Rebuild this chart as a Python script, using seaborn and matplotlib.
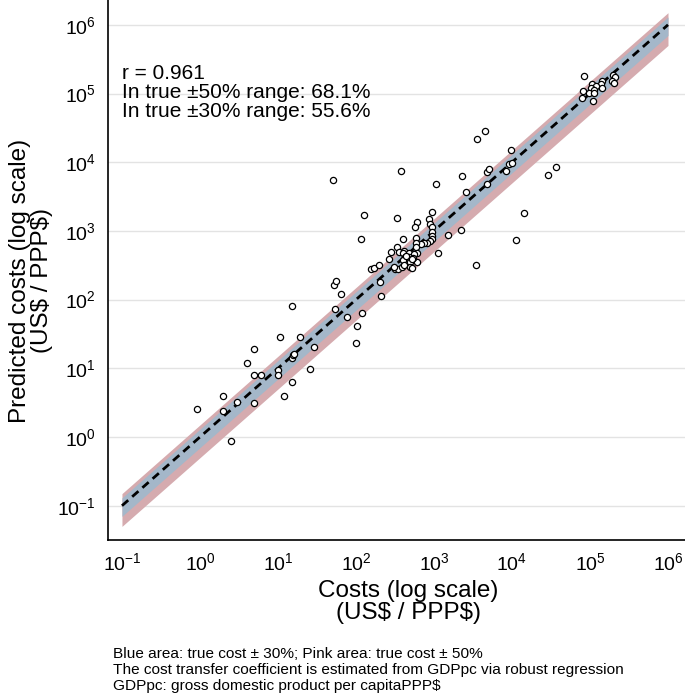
import numpy as np
import matplotlib
matplotlib.use("Agg")
import matplotlib.pyplot as plt
import seaborn as sns
from matplotlib.ticker import LogLocator, LogFormatterSciNotation, NullLocator

# observed costs (x) and predicted costs (y), US$ / PPP$
cost = [0.92, 2.0, 2.0, 2.98, 2.48, 3.97, 4.97, 4.97, 6.0, 4.97,
        10.6, 19.4, 10.0, 10.0, 11.9, 15.0, 15.0, 15.4, 16.0, 25.9,
        29.2, 15.0, 54.3, 64.9, 76.7, 100, 104, 120, 51.8, 54.9,
        211, 203, 50.7, 117, 128, 378, 338, 1050, 2300, 2550,
        3510, 4500, 4740, 5120, 4780, 8260, 9230, 10100, 9710, 29100,
        36600, 14300, 11200, 3430, 2200, 1520, 1140, 404,
        935, 855, 902, 951, 935, 951, 943, 889, 821, 745, 675,
        611, 579, 593, 588, 588, 600, 611,
        154, 170, 199, 267, 285, 340, 353, 412, 397, 482, 558,
        425, 482, 543, 404, 492, 316, 348, 385, 412, 492, 517, 307,
        438, 527,
        82600, 195000, 211000, 190000, 203000, 141000, 137000, 105000,
        119000, 102000, 113000, 141000, 80500, 98000, 112000, 78300, 110000]
predicted = [2.56, 4.0, 2.4, 3.18, 0.88, 12.1, 18.9, 7.98, 7.98, 3.16,
             28.1, 28.1, 9.44, 7.9, 4.0, 6.3, 14.3, 15.6, 16.4, 9.87,
             20.1, 80.7, 73, 119, 55.8, 23.6, 41.3, 64.4, 163, 187,
             112, 180, 5510, 775, 1690, 7380, 1520, 4860, 6300, 3720,
             22100, 28000, 7130, 7890, 4770, 7450, 9320, 9840, 15300, 6620,
             8430, 1800, 742, 316, 1020, 871, 472, 769,
             1880, 1480, 1260, 1140, 980, 857, 755, 702, 673, 660, 645,
             1330, 1150, 780, 673, 589, 472, 352,
             276, 286, 319, 384, 485, 577, 485, 515, 482, 482, 461,
             421, 413, 399, 377, 356, 279, 276, 301, 319, 301, 286, 301,
             431, 386,
             180000, 186000, 172000, 152000, 144000, 153000, 137000, 136000,
             129000, 119000, 112000, 119000, 109000, 101000, 101000, 86900, 78500]

line_range = [0.1, 1e6]
band_30 = 0.3
band_50 = 0.5
stats_text = "r = 0.961\nIn true \u00b150% range: 68.1%\nIn true \u00b130% range: 55.6%"
notes = ("Blue area: true cost \u00b1 30%; Pink area: true cost \u00b1 50%\n"
         "The cost transfer coefficient is estimated from GDPpc via robust regression\n"
         "GDPpc: gross domestic product per capitaPPP\\$")

sns.set_style("white")
plt.rcParams["font.family"] = ["Liberation Sans", "DejaVu Sans"]
plt.rcParams["text.color"] = "black"
plt.rcParams["axes.labelcolor"] = "black"
plt.rcParams["xtick.color"] = "black"
plt.rcParams["ytick.color"] = "black"

fig = plt.figure(figsize=(6.85, 6.94), dpi=100)
ax = fig.add_axes([108 / 685, 1 - 540 / 694, 1 - 108 / 685, 540 / 694])

xs = np.array(line_range)
ax.fill_between(xs, xs * (1 - band_50), xs * (1 + band_50), color="#d5abaf", lw=0, zorder=1)
ax.fill_between(xs, xs * (1 - band_30), xs * (1 + band_30), color="#a4b7c9", lw=0, zorder=2)
ax.plot(xs, xs, color="black", lw=2.0, linestyle=(0, (3.0, 1.9)), zorder=3)

sns.scatterplot(x=cost, y=predicted, ax=ax, marker="o", s=20,
                facecolor="white", edgecolor="black", linewidth=0.9, zorder=4)

ax.set_xscale("log")
ax.set_yscale("log")
ax.set_xlim(10 ** -1.179, 10 ** 6.218)
ax.set_ylim(10 ** -1.499, 10 ** 6.361)

for axis in (ax.xaxis, ax.yaxis):
    axis.set_major_locator(LogLocator(base=10, numticks=20))
    axis.set_major_formatter(LogFormatterSciNotation())
    axis.set_minor_locator(NullLocator())
ax.set_xticks([10.0 ** k for k in range(-1, 7)])
ax.set_yticks([10.0 ** k for k in range(-1, 7)])

ax.yaxis.grid(True, color="#e3e3e3", lw=1.0, zorder=0)
ax.xaxis.grid(False)
ax.set_axisbelow(True)

for side in ("top", "right"):
    ax.spines[side].set_visible(False)
for side in ("left", "bottom"):
    ax.spines[side].set_linewidth(1.2)
    ax.spines[side].set_color("black")
ax.tick_params(axis="both", which="major", direction="out", length=6, width=1.1,
               color="black", labelcolor="black", labelsize=14, pad=3)

ax.set_xlabel("Costs (log scale)\n(US\\$ / PPP\\$)", fontsize=17.5, linespacing=1.0)
ax.xaxis.set_label_coords(0.52, -0.075)
ax.set_ylabel("Predicted costs (log scale)\n(US\\$ / PPP\\$)", fontsize=17.5, linespacing=1.0)
ax.yaxis.set_label_coords(-0.095, 0.48)

ax.text(14 / 577, 1 - 64 / 540, stats_text, transform=ax.transAxes,
        fontsize=15, va="top", ha="left", linespacing=1.0)

fig.text(113 / 685, 1 - 647 / 694, notes, fontsize=11.1, va="top", ha="left",
         linespacing=1.2)

fig.savefig("out.png", dpi=100)
